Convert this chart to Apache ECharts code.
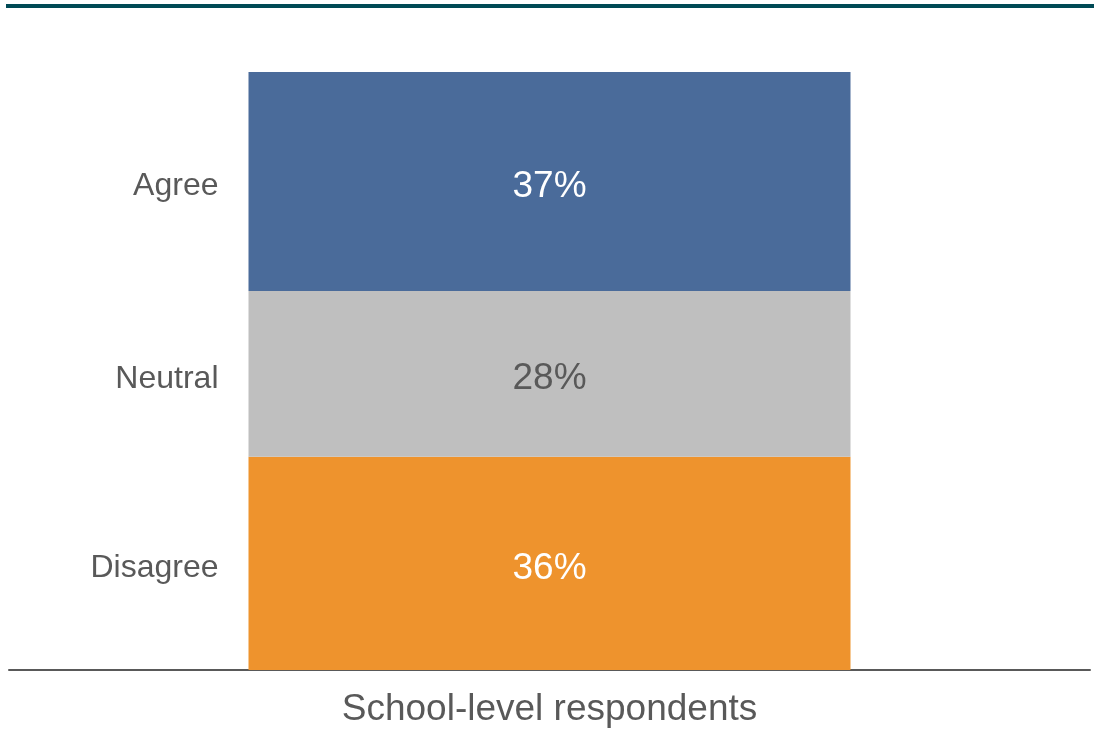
<!DOCTYPE html>
<html>
<head>
<meta charset="utf-8">
<script src="https://cdn.jsdelivr.net/npm/echarts@6/dist/echarts.min.js"></script>
<style>
html, body { margin: 0; padding: 0; background: #fff; }
#topline { position: absolute; left: 6px; right: 0; top: 4px; height: 4px; background: #004a55; }
#chart { width: 1094px; height: 731px; }
</style>
</head>
<body>
<div id="topline"></div>
<div id="chart"></div>
<script>
// data
const categories = ['School-level respondents']
const seriesNames = ['Disagree', 'Neutral', 'Agree']
const disagree = [36]
const neutral = [28]
const agree = [37]
const colors = ['#ee932d', '#bfbfbf', '#4a6b9a']
const labelColors = ['#ffffff', '#595959', '#ffffff']

const values = [disagree, neutral, agree]
const fontFamily = '"Liberation Sans", Arial, sans-serif'

let series = []
// coloured stacked bars with value labels inside
values.forEach(function(v, i) {
    series.push({
        name: seriesNames[i],
        type: 'bar',
        stack: 'main',
        barWidth: 602,
        data: v,
        itemStyle: { color: colors[i] },
        label: {
            show: true,
            position: 'inside',
            offset: [0, 5],
            formatter: '{c}%',
            color: labelColors[i],
            fontSize: 37,
            fontFamily: fontFamily
        }
    })
})
// transparent copy on the second x axis, only to put the names on the left
values.forEach(function(v, i) {
    series.push({
        name: seriesNames[i] + '-name',
        type: 'bar',
        stack: 'names',
        xAxisIndex: 1,
        barWidth: 602,
        data: v,
        silent: true,
        itemStyle: { color: 'transparent' },
        label: {
            show: true,
            position: 'left',
            distance: 30,
            offset: [0, 5],
            formatter: seriesNames[i],
            color: '#595959',
            fontSize: 32,
            fontFamily: fontFamily
        }
    })
})

let chart = echarts.init(document.getElementById('chart'))
chart.setOption({
    animation: false,
    grid: { left: 9, right: 4, top: 72, bottom: 61 },
    xAxis: [
        {
            type: 'category',
            data: categories,
            axisTick: { show: false },
            axisLine: { lineStyle: { color: '#595959', width: 2 } },
            axisLabel: {
                margin: 21,
                color: '#595959',
                fontSize: 37,
                fontFamily: fontFamily
            }
        },
        {
            type: 'category',
            data: categories,
            show: false
        }
    ],
    yAxis: {
        type: 'value',
        min: 0,
        max: 101,
        show: false
    },
    series: series
})
</script>
</body>
</html>
